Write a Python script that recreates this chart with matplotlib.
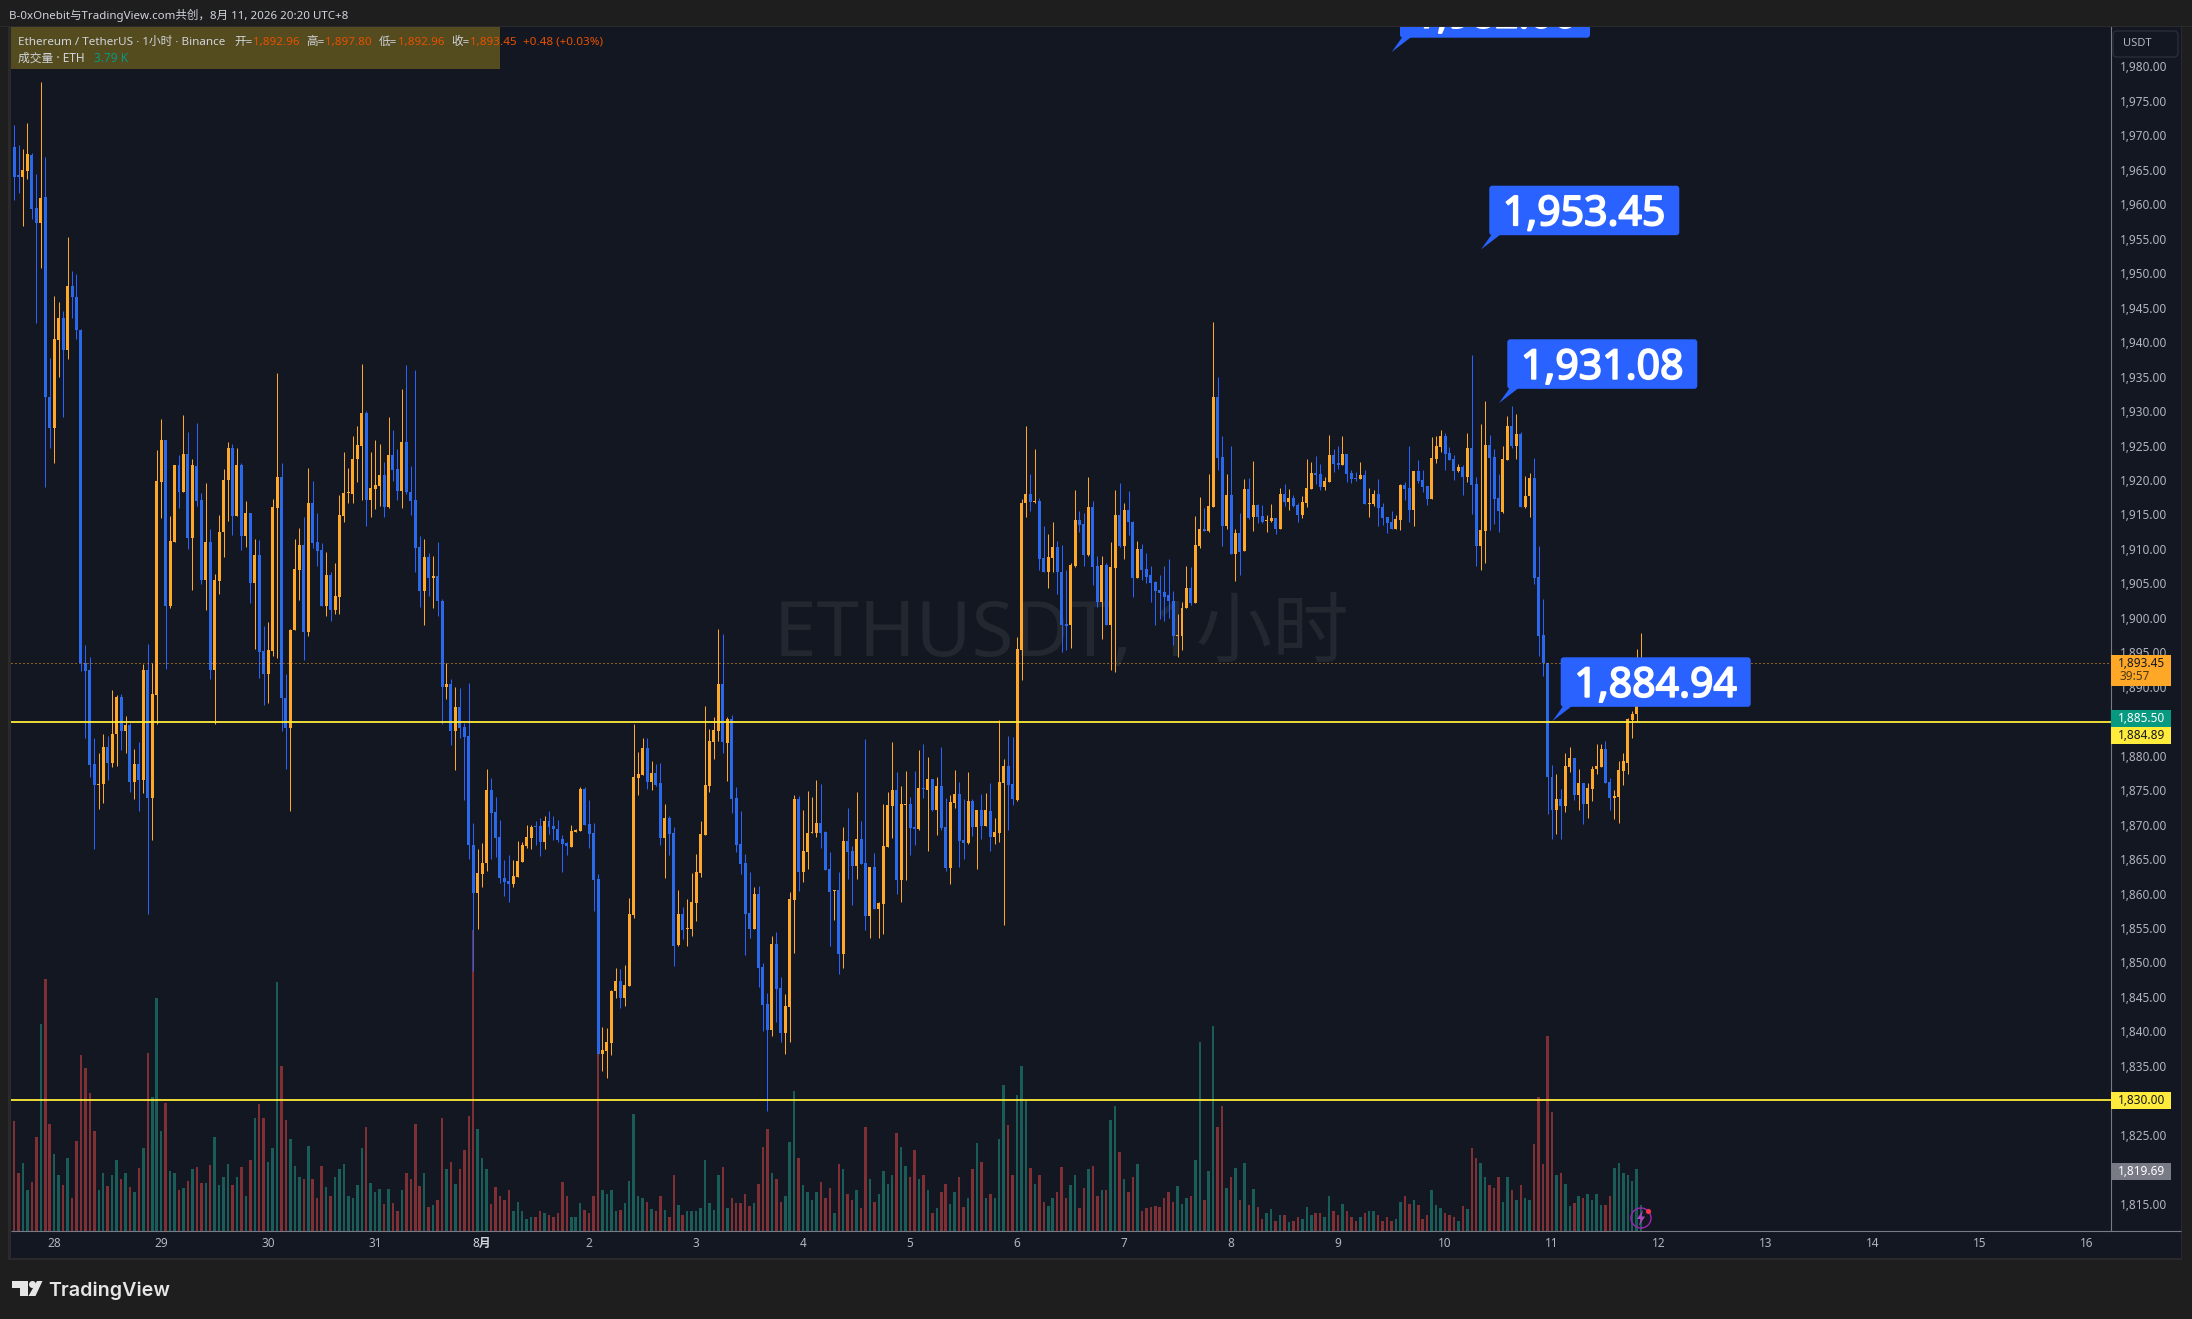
import numpy as np
import matplotlib
matplotlib.use("Agg")
import matplotlib.pyplot as plt
import matplotlib.patheffects as pe
from matplotlib.patches import Rectangle, FancyBboxPatch, Polygon, Circle

plt.rcParams['font.family'] = ['Noto Sans', 'Noto Sans CJK SC', 'DejaVu Sans']

# one hourly bar per entry, first bar is 10 hours before 28 Jul 00:00
opens = [
    1965.3,1968.3,1964.3,1964.0,1964.8,1967.2,1959.5,1957.3,1961.0,1932.1,
    1927.5,1940.3,1943.5,1938.9,1948.2,1946.6,1941.8,1893.5,1892.4,1878.8,
    1875.8,1875.9,1881.2,1879.0,1883.1,1888.5,1883.6,1884.5,1876.2,1878.8,
    1876.5,1892.4,1873.9,1888.8,1919.7,1925.8,1901.7,1911.0,1922.2,1918.2,
    1923.8,1911.6,1922.0,1917.1,1905.5,1911.0,1892.5,1905.4,1912.4,1920.0,
    1924.7,1914.8,1922.2,1911.9,1915.2,1905.1,1909.1,1895.2,1891.9,1895.2,
    1916.0,1920.4,1888.4,1884.0,1898.2,1907.0,1910.6,1897.9,1916.7,1911.0,
    1909.8,1901.7,1906.2,1901.2,1903.0,1914.8,1918.1,1918.0,1923.1,1925.0,
    1929.7,1917.1,1918.7,1919.2,1920.7,1916.1,1923.6,1921.6,1918.4,1925.5,
    1918.2,1917.1,1910.3,1903.9,1908.8,1905.8,1906.1,1902.4,1890.0,1890.4,
    1883.6,1887.0,1884.1,1882.8,1867.1,1860.1,1862.8,1864.4,1875.0,1871.8,
    1868.2,1862.3,1861.8,1861.4,1862.4,1864.6,1866.9,1868.1,1869.7,1869.8,
    1867.5,1870.5,1869.8,1869.4,1867.9,1867.3,1866.7,1869.0,1869.1,1875.2,
    1870.1,1868.8,1862.1,1836.7,1837.2,1838.3,1845.8,1847.3,1844.8,1846.6,
    1856.9,1876.8,1877.2,1881.1,1876.2,1877.5,1876.0,1868.1,1871.0,1868.8,
    1852.5,1857.0,1854.9,1854.9,1858.6,1863.0,1868.5,1875.6,1882.0,1883.6,
    1890.4,1881.8,1885.3,1873.9,1867.2,1864.4,1857.2,1854.9,1859.9,1849.3,
    1844.0,1840.2,1852.7,1846.3,1839.8,1843.5,1859.0,1873.7,1863.1,1866.0,
    1868.8,1868.8,1870.2,1868.9,1863.6,1860.3,1860.5,1851.2,1867.6,1866.2,
    1864.0,1867.9,1864.4,1856.7,1863.9,1857.8,1858.5,1866.8,1872.7,1875.0,
    1862.0,1872.9,1873.0,1869.7,1869.4,1875.3,1875.0,1876.6,1872.1,1875.6,
    1869.6,1863.7,1873.1,1874.4,1867.8,1867.3,1873.4,1869.7,1872.1,1869.8,
    1872.0,1868.2,1868.8,1876.0,1878.5,1875.9,1873.6,1895.3,1916.6,1918.0,
    1916.8,1916.9,1908.7,1906.6,1908.7,1910.3,1906.6,1899.1,1898.9,1907.5,
    1914.2,1913.6,1909.1,1916.1,1907.5,1902.3,1907.7,1898.9,1907.3,1914.9,
    1910.4,1915.7,1913.9,1905.8,1910.0,1907.1,1906.2,1905.2,1904.0,1903.7,
    1903.3,1902.5,1897.3,1897.3,1901.5,1904.4,1902.1,1910.4,1912.9,1912.6,
    1916.1,1932.0,1923.3,1913.3,1917.8,1909.3,1912.3,1909.7,1918.7,1914.6,
    1916.4,1914.8,1914.0,1914.1,1914.5,1912.9,1918.0,1916.8,1917.4,1916.4,
    1914.9,1916.7,1918.7,1921.0,1920.9,1919.0,1919.7,1923.6,1922.5,1922.2,
    1923.8,1921.0,1920.3,1920.2,1920.7,1916.5,1916.5,1918.0,1916.1,1914.6,
    1913.9,1912.9,1914.2,1919.3,1918.8,1915.7,1921.3,1920.0,1919.1,1917.2,
    1923.1,1924.8,1926.4,1923.9,1923.0,1921.3,1921.9,1920.4,1924.6,1919.4,
    1910.4,1912.6,1925.1,1923.3,1917.4,1915.4,1922.9,1927.8,1925.0,1926.7,
    1916.1,1917.7,1920.3,1906.0,1897.5,1893.4,1876.9,1872.1,1873.7,1872.7,
    1878.4,1879.7,1874.3,1876.0,1873.0,1875.2,1878.0,1878.4,1881.0,1876.2,
    1873.9,1874.0,1877.8,1879.0,1885.2,1886.0,1892.96,
]
closes = [
    1968.4,1964.0,1964.0,1965.0,1967.3,1959.3,1957.3,1960.9,1932.1,1927.6,
    1940.5,1943.5,1938.9,1948.2,1946.6,1941.7,1893.5,1892.3,1878.7,1875.8,
    1875.9,1881.2,1879.0,1883.2,1888.5,1883.6,1884.5,1876.2,1878.8,1876.5,
    1892.4,1873.9,1889.0,1919.8,1925.8,1901.7,1911.1,1922.2,1918.2,1923.8,
    1911.6,1922.2,1917.0,1905.5,1911.0,1892.5,1905.5,1912.4,1920.0,1924.7,
    1914.8,1922.2,1911.9,1915.2,1905.1,1909.1,1895.0,1891.9,1895.3,1916.1,
    1920.4,1888.4,1884.0,1898.2,1907.1,1910.6,1897.9,1916.7,1910.9,1909.7,
    1901.7,1906.2,1901.2,1903.2,1914.9,1918.1,1918.2,1923.1,1925.1,1929.7,
    1917.1,1918.9,1919.3,1920.7,1916.1,1923.6,1921.4,1918.4,1925.5,1918.2,
    1916.9,1910.2,1903.9,1908.8,1905.8,1906.1,1902.4,1890.0,1890.4,1883.6,
    1887.0,1884.0,1882.7,1867.0,1860.1,1863.0,1864.5,1875.0,1871.7,1868.1,
    1862.2,1861.7,1861.4,1862.5,1864.7,1867.1,1868.2,1869.7,1869.6,1867.5,
    1870.5,1869.7,1869.4,1867.8,1867.2,1866.9,1869.1,1869.2,1875.2,1870.0,
    1868.6,1862.0,1836.7,1837.3,1838.4,1845.9,1847.3,1844.8,1846.7,1857.0,
    1876.9,1877.3,1881.1,1876.2,1877.5,1875.8,1868.1,1871.0,1868.6,1852.4,
    1857.0,1854.7,1855.0,1858.8,1863.1,1868.6,1875.7,1882.1,1883.7,1890.4,
    1882.0,1885.3,1873.7,1867.0,1864.3,1857.0,1854.9,1859.9,1849.2,1843.8,
    1840.2,1852.7,1846.2,1839.8,1843.7,1859.2,1873.7,1863.1,1866.2,1868.8,
    1868.9,1870.2,1868.8,1863.4,1860.2,1860.5,1851.2,1867.6,1866.0,1864.0,
    1867.9,1864.3,1856.7,1863.9,1857.8,1858.6,1866.9,1872.8,1875.0,1862.0,
    1873.0,1873.0,1869.5,1869.4,1875.3,1875.2,1876.6,1872.1,1875.6,1869.5,
    1863.7,1873.3,1874.4,1867.6,1867.3,1873.4,1869.7,1872.1,1869.8,1872.1,
    1868.2,1868.9,1876.2,1878.5,1875.7,1873.7,1895.5,1916.7,1918.0,1916.8,
    1916.9,1908.6,1906.6,1908.8,1910.3,1906.6,1899.0,1898.8,1907.7,1914.2,
    1913.5,1909.1,1916.1,1907.4,1902.3,1907.7,1898.9,1907.4,1914.9,1910.4,
    1915.7,1913.9,1905.8,1910.0,1907.0,1906.0,1905.0,1903.9,1903.6,1903.1,
    1902.5,1897.3,1897.4,1901.5,1904.4,1902.1,1910.6,1912.9,1912.6,1916.2,
    1932.0,1923.2,1913.3,1917.8,1909.3,1912.3,1909.6,1918.7,1914.5,1916.4,
    1914.6,1913.9,1914.2,1914.5,1912.9,1918.0,1916.8,1917.4,1916.2,1914.9,
    1916.8,1918.8,1921.0,1920.7,1919.0,1919.9,1923.6,1922.3,1922.2,1923.8,
    1920.9,1920.2,1920.2,1920.7,1916.5,1916.7,1918.0,1916.0,1914.5,1913.8,
    1912.9,1914.4,1919.3,1918.7,1915.7,1921.3,1919.9,1919.0,1917.3,1923.2,
    1925.0,1926.4,1923.8,1922.9,1921.3,1921.9,1920.4,1924.6,1919.3,1910.4,
    1912.8,1925.1,1923.2,1917.2,1915.5,1923.0,1927.8,1925.0,1926.7,1916.1,
    1917.7,1920.3,1905.8,1897.4,1893.4,1876.9,1872.1,1873.7,1872.7,1878.5,
    1879.7,1874.3,1876.0,1873.0,1875.3,1878.1,1878.5,1881.0,1876.0,1873.9,
    1874.2,1877.9,1879.2,1885.3,1886.0,1892.96,1893.45,
]
highs = [
    1968.4,1971.5,1968.6,1968.0,1971.8,1967.4,1964.4,1977.7,1966.8,1937.7,
    1946.7,1945.9,1944.5,1955.2,1950.3,1949.9,1941.9,1896.1,1894.3,1882.6,
    1880.4,1883.1,1882.9,1889.5,1888.8,1889.0,1885.8,1884.7,1881.0,1882.0,
    1893.3,1896.2,1893.4,1924.4,1928.8,1925.8,1914.8,1922.2,1923.7,1929.5,
    1927.0,1923.0,1928.3,1918.1,1919.6,1912.9,1906.3,1914.9,1921.6,1925.5,
    1925.2,1924.7,1922.4,1917.0,1915.2,1911.5,1911.3,1898.8,1899.4,1917.3,
    1935.5,1922.5,1891.9,1898.4,1911.4,1913.0,1914.6,1921.8,1919.8,1915.2,
    1910.9,1909.5,1906.7,1907.9,1917.8,1924.0,1921.8,1926.4,1927.8,1936.8,
    1930.0,1924.0,1925.8,1925.2,1922.6,1929.1,1927.3,1924.5,1933.2,1936.7,
    1922.0,1936.0,1911.9,1911.4,1909.4,1909.0,1911.0,1902.7,1893.4,1891.1,
    1890.0,1889.8,1884.7,1890.5,1870.2,1866.4,1867.4,1878.1,1876.8,1874.0,
    1870.7,1864.9,1865.6,1864.8,1867.6,1867.5,1869.9,1870.0,1870.5,1870.9,
    1871.2,1872.0,1871.2,1870.7,1868.5,1867.5,1870.0,1869.4,1875.4,1875.4,
    1873.6,1870.2,1862.9,1840.6,1840.5,1846.0,1849.2,1849.0,1849.6,1859.4,
    1884.6,1880.5,1882.6,1882.6,1879.2,1878.8,1878.9,1873.0,1871.2,1869.6,
    1860.5,1858.0,1859.2,1863.0,1865.7,1870.5,1887.2,1883.9,1885.6,1898.4,
    1897.7,1885.6,1885.9,1875.5,1872.0,1865.7,1863.1,1860.9,1861.1,1849.9,
    1845.5,1853.8,1854.4,1847.9,1845.4,1860.2,1874.3,1874.1,1872.1,1874.9,
    1874.0,1876.5,1875.9,1869.1,1866.0,1860.5,1863.1,1869.7,1872.4,1866.9,
    1874.7,1870.5,1882.4,1863.9,1865.9,1858.8,1873.0,1874.7,1882.0,1877.6,
    1875.6,1877.8,1874.0,1877.8,1880.8,1881.7,1879.8,1876.6,1876.9,1881.3,
    1873.9,1874.3,1877.9,1876.2,1873.7,1877.6,1873.7,1872.1,1874.4,1874.6,
    1876.0,1871.0,1885.2,1879.5,1882.9,1882.7,1897.2,1917.2,1927.8,1920.9,
    1924.5,1917.4,1913.3,1912.2,1913.9,1911.1,1910.6,1907.0,1908.0,1918.5,
    1915.5,1915.2,1920.4,1917.0,1909.0,1909.0,1907.9,1911.0,1918.6,1919.5,
    1916.6,1918.4,1914.0,1911.1,1910.7,1909.4,1907.5,1905.4,1906.2,1907.5,
    1908.5,1903.9,1900.5,1902.3,1907.5,1907.4,1914.8,1917.5,1915.9,1920.9,
    1942.9,1935.0,1926.4,1920.9,1924.9,1912.9,1915.2,1920.2,1920.3,1922.8,
    1916.5,1916.4,1914.9,1916.5,1914.5,1918.8,1919.4,1918.7,1917.8,1916.7,
    1917.7,1923.0,1922.6,1923.5,1922.3,1920.4,1926.5,1924.5,1924.9,1926.4,
    1923.8,1921.5,1921.2,1922.6,1921.5,1918.9,1918.6,1920.2,1916.7,1914.6,
    1915.5,1914.9,1919.4,1919.7,1924.9,1921.3,1922.9,1921.5,1919.1,1926.2,
    1926.4,1927.3,1926.8,1924.8,1923.6,1922.3,1922.2,1926.8,1938.1,1920.4,
    1928.1,1931.5,1926.5,1924.5,1920.9,1925.0,1929.3,1930.7,1929.6,1927.0,
    1920.6,1921.0,1923.2,1910.4,1902.8,1893.4,1878.7,1877.4,1875.2,1880.4,
    1881.3,1879.7,1878.1,1876.0,1876.0,1878.5,1881.7,1881.7,1882.1,1876.8,
    1875.0,1879.2,1880.4,1885.5,1886.5,1895.5,1897.8,
]
lows = [
    1965.3,1960.6,1961.7,1956.8,1963.7,1957.9,1942.8,1950.8,1919.0,1924.7,
    1922.5,1935.0,1929.2,1937.6,1943.5,1940.5,1892.3,1882.5,1876.9,1866.4,
    1872.3,1873.2,1876.5,1878.4,1878.5,1880.8,1880.4,1874.7,1873.7,1872.0,
    1874.6,1857.0,1867.8,1884.6,1914.5,1892.6,1901.5,1911.0,1916.0,1918.2,
    1910.0,1904.0,1916.2,1904.9,1901.2,1891.2,1884.6,1903.5,1908.8,1914.1,
    1912.0,1914.8,1909.8,1910.3,1902.2,1895.5,1891.3,1887.3,1887.7,1894.5,
    1894.2,1883.6,1878.1,1872.0,1898.3,1902.6,1893.9,1897.4,1910.2,1907.5,
    1901.7,1900.2,1899.6,1900.5,1900.5,1913.9,1916.7,1916.7,1919.7,1917.1,
    1913.4,1914.6,1915.8,1916.2,1914.6,1916.0,1919.8,1917.1,1916.0,1918.0,
    1914.9,1906.6,1901.6,1899.0,1903.2,1901.5,1900.3,1884.6,1888.2,1881.5,
    1877.9,1882.5,1873.6,1865.0,1848.8,1854.8,1860.9,1863.3,1865.0,1865.3,
    1861.6,1859.7,1858.8,1861.0,1862.4,1864.6,1866.6,1866.5,1867.0,1865.4,
    1866.5,1868.7,1867.7,1867.5,1863.2,1865.6,1866.7,1868.9,1869.1,1870.0,
    1866.6,1857.5,1836.7,1834.3,1833.2,1836.6,1844.9,1843.4,1843.7,1846.6,
    1856.5,1874.3,1877.2,1875.2,1875.0,1875.6,1867.1,1862.3,1865.6,1849.5,
    1852.4,1853.4,1852.4,1853.9,1856.0,1862.4,1868.5,1874.7,1879.5,1882.1,
    1880.4,1876.3,1871.7,1866.0,1862.8,1851.1,1853.6,1854.9,1846.5,1840.1,
    1828.5,1839.3,1841.4,1838.5,1836.7,1838.5,1851.4,1860.4,1861.7,1863.6,
    1868.8,1868.2,1866.6,1863.4,1852.4,1856.2,1848.3,1849.2,1862.1,1858.3,
    1862.1,1864.3,1854.7,1853.6,1857.8,1853.6,1854.1,1866.8,1868.1,1859.9,
    1858.8,1862.0,1865.6,1867.0,1869.2,1873.9,1866.2,1872.0,1868.5,1869.2,
    1863.3,1861.4,1872.4,1863.9,1865.0,1867.2,1868.3,1863.6,1867.9,1869.8,
    1866.2,1867.2,1867.5,1855.4,1869.2,1872.8,1873.4,1891.0,1914.6,1915.5,
    1916.7,1907.0,1906.6,1904.3,1906.6,1903.4,1895.1,1895.4,1895.6,1907.4,
    1912.5,1907.5,1909.0,1904.8,1901.6,1897.0,1898.9,1892.5,1892.1,1910.3,
    1908.5,1912.0,1903.0,1905.8,1905.5,1905.0,1902.3,1899.0,1899.8,1899.5,
    1900.0,1896.1,1894.3,1895.3,1901.5,1901.8,1902.1,1910.1,1912.6,1912.5,
    1916.1,1921.5,1910.4,1912.9,1909.3,1905.4,1906.2,1909.7,1914.3,1912.6,
    1913.8,1913.8,1912.5,1913.9,1912.2,1912.9,1916.2,1915.7,1916.1,1913.9,
    1914.5,1916.1,1918.7,1919.4,1918.6,1918.6,1919.7,1921.2,1921.6,1922.2,
    1919.7,1919.6,1919.9,1920.2,1916.5,1914.7,1916.2,1913.3,1913.5,1912.3,
    1912.9,1912.9,1912.8,1917.1,1913.9,1913.3,1919.6,1918.3,1916.4,1917.2,
    1922.5,1924.0,1921.5,1922.9,1920.0,1921.2,1917.8,1919.7,1915.0,1907.5,
    1907.0,1908.0,1912.8,1913.6,1912.5,1915.2,1922.9,1924.7,1923.1,1916.1,
    1916.0,1914.6,1904.9,1894.5,1891.6,1871.5,1867.9,1868.6,1867.9,1871.8,
    1877.6,1873.6,1872.1,1870.1,1871.0,1873.4,1877.4,1878.4,1876.0,1872.1,
    1870.8,1870.3,1875.8,1877.4,1882.6,1885.0,1892.96,
]
# volume in thousands of ETH
volumes = [
    24.6,16.2,8.6,10.0,6.1,7.3,13.9,30.5,37.2,15.8,
    11.3,8.3,6.8,10.7,4.8,13.3,26.0,24.0,20.4,14.7,
    6.0,8.5,6.7,8.3,10.4,7.7,8.5,6.5,5.8,9.3,
    12.3,26.3,19.7,34.4,14.8,18.9,8.9,8.5,6.1,6.4,
    7.4,9.2,9.5,7.1,7.1,9.8,13.8,6.8,8.0,9.9,
    6.8,8.0,9.5,5.2,10.4,16.6,18.8,16.6,10.2,12.2,
    36.7,24.3,16.4,13.6,9.6,7.9,7.7,12.6,7.6,4.8,
    9.6,6.5,5.1,7.9,9.1,9.9,5.1,4.9,6.8,12.2,
    15.3,7.1,5.7,6.2,4.0,6.2,4.2,3.0,6.1,8.6,
    7.6,15.8,6.7,8.5,3.6,3.9,4.5,16.6,9.1,10.2,
    7.0,9.1,11.9,17.0,44.4,15.1,10.8,9.2,4.0,6.5,
    5.1,4.5,6.1,3.0,4.3,3.0,1.8,2.0,2.0,2.9,
    2.6,2.3,2.0,2.6,7.3,5.1,2.1,2.0,4.2,3.1,
    2.7,5.1,30.0,6.1,5.5,6.0,3.0,3.1,4.2,7.4,
    17.3,5.1,4.8,4.3,3.3,2.9,5.1,3.1,2.0,8.2,
    3.9,2.4,2.9,3.0,3.0,3.4,10.5,4.2,3.1,8.3,
    9.5,3.4,4.8,4.2,4.2,5.4,3.7,4.2,7.0,12.4,
    15.1,8.5,7.7,4.3,5.1,13.2,20.6,10.7,6.8,5.8,
    4.5,5.8,7.3,4.8,6.4,2.7,9.9,9.1,5.4,4.5,
    6.1,3.4,15.4,7.7,4.3,5.5,8.8,7.0,8.2,14.5,
    12.4,9.6,8.0,11.9,7.6,8.2,6.0,2.6,3.4,5.7,
    7.0,4.0,5.8,7.9,3.6,4.9,9.2,13.0,10.2,4.9,
    5.4,4.9,13.5,21.6,15.7,8.2,20.0,24.3,19.2,9.3,
    7.0,8.2,4.3,3.7,4.9,5.7,9.5,4.9,6.8,8.3,
    3.4,6.4,9.1,9.6,5.2,6.0,6.0,16.3,18.5,11.7,
    7.7,5.7,7.9,9.9,3.0,3.4,3.6,3.7,3.6,4.9,
    5.8,4.3,6.7,4.0,4.9,5.2,10.5,27.9,4.6,8.8,
    30.3,15.4,18.5,6.4,7.9,9.3,4.5,10.1,3.9,6.2,
    3.6,1.7,2.6,3.3,1.5,2.3,2.4,1.4,1.5,2.0,
    1.7,3.6,2.3,2.7,2.6,2.1,5.1,3.0,2.4,4.0,
    2.9,2.0,1.5,2.0,2.6,2.9,2.9,2.3,1.5,2.1,
    1.5,1.7,4.3,5.1,4.0,4.5,3.9,1.7,2.4,6.1,
    3.9,3.4,2.7,2.3,2.0,1.5,3.7,3.3,12.3,10.7,
    10.1,8.0,6.8,6.4,7.9,4.3,7.9,6.0,4.5,6.8,
    4.9,4.5,12.9,19.8,9.9,28.8,17.5,8.2,8.6,7.0,
    3.7,4.2,5.1,4.8,5.4,4.6,5.5,3.9,3.9,5.2,
    9.3,10.1,8.5,8.2,7.4,9.1,3.79,
]
day_labels = ["28","29","30","31","8月","2","3","4","5","6","7","8","9","10","11","12","13","14","15","16"]
# 1820, 1830 and 1885 sit fully under the price badges
price_ticks = [p for p in range(1815, 1985, 5) if p not in (1820, 1830, 1885)]
line_levels = [1884.89, 1830.0]
last_price = 1893.45

W, H = 2192, 1319
BG = "#1e1e1e"
PANE = "#131722"
SEP = "#2a2a2a"
UP = "#ffa726"
DOWN_BODY = "#2b6ce0"
DOWN_WICK = "#2962ff"
VOL_UP = "#1a5d58"
VOL_DOWN = "#7e3034"
AXIS_TEXT = "#b2b5be"
YELLOW = "#ffeb3b"
CALLOUT = "#2962ff"

# pane edges in pixels
PANE_L, PANE_R, PANE_T, PANE_B = 10.5, 2111.0, 27.0, 1231.0

opens = np.array(opens)
closes = np.array(closes)
highs = np.array(highs)
lows = np.array(lows)
volumes = np.array(volumes)
x = np.arange(len(opens)) - 10
up = closes >= opens

fig = plt.figure(figsize=(W / 100, H / 100), dpi=100, facecolor=BG)
pos = [PANE_L / W, 1 - PANE_B / H, (PANE_R - PANE_L) / W, (PANE_B - PANE_T) / H]

back = fig.add_axes([0, 0, 1, 1], zorder=0)
back.set_xlim(0, W)
back.set_ylim(H, 0)
back.axis("off")
back.add_patch(Rectangle((8, 26), 2174, 1234, fc=SEP, ec="none"))
back.add_patch(Rectangle((PANE_L, PANE_T), 2181 - PANE_L, 1258 - PANE_T, fc=PANE, ec="none"))
back.text(1061, 656, "ETHUSDT, 1小时", color="#232730", fontsize=55, ha="center", va="baseline")

xlim = (-9.80, 461.4)

vol_ax = fig.add_axes(pos, zorder=1)
vol_ax.patch.set_visible(False)
vol_ax.set_xlim(*xlim)
vol_ax.set_ylim(0, 177.6)
vol_ax.axis("off")
vol_ax.bar(x, volumes, width=0.56, color=[VOL_UP if u else VOL_DOWN for u in up], linewidth=0)

ax = fig.add_axes(pos, zorder=2)
ax.patch.set_visible(False)
ax.set_xlim(*xlim)
ax.set_ylim(1811.04, 1985.73)

# wicks then bodies
ax.vlines(x[up], lows[up], highs[up], color=UP, linewidth=0.72)
ax.vlines(x[~up], lows[~up], highs[~up], color=DOWN_WICK, linewidth=0.72)
bottoms = np.minimum(opens, closes)
heights = np.maximum(np.abs(closes - opens), 0.15)
ax.bar(x[up], heights[up], bottom=bottoms[up], width=0.67, color=UP, linewidth=0)
ax.bar(x[~up], heights[~up], bottom=bottoms[~up], width=0.67, color=DOWN_BODY, linewidth=0)

for level in line_levels:
    ax.axhline(level, color=YELLOW, linewidth=1.3)
ax.axhline(last_price, color=UP, linewidth=0.72, linestyle=(0, (1, 3)))

ax.yaxis.tick_right()
ax.set_yticks(price_ticks)
ax.set_yticklabels([f"{p:,.2f}" for p in price_ticks], color=AXIS_TEXT, fontsize=8.5)
ax.set_xticks(np.arange(len(day_labels)) * 24)
ax.set_xticklabels(day_labels, color=AXIS_TEXT, fontsize=8.5)
ax.tick_params(axis="both", length=0)
ax.tick_params(axis="y", pad=6.5)
ax.tick_params(axis="x", pad=4)
for lab in ax.get_xticklabels():
    if lab.get_text() == "8月":
        lab.set_fontweight("bold")
        lab.set_color("#d1d4dc")
for s in ["top", "left"]:
    ax.spines[s].set_visible(False)
ax.spines["right"].set_color("#787b86")
ax.spines["right"].set_linewidth(0.8)
ax.spines["bottom"].set_visible(False)

# everything in pixels from here on
top = fig.add_axes([0, 0, 1, 1], zorder=3)
top.patch.set_visible(False)
top.set_xlim(0, W)
top.set_ylim(H, 0)
top.axis("off")

top.plot([PANE_L, 2181], [1231, 1231], color="#787b86", lw=0.8, solid_capstyle="butt")


def callout(left, ytop, label):
    width, height = 190, 49.5
    bottom = ytop + height
    top.add_patch(Polygon([(left + 2.6, bottom - 1), (left + 11.6, bottom - 1), (left - 8.3, bottom + 14.3)],
                          fc=CALLOUT, ec="none", zorder=4))
    top.add_patch(FancyBboxPatch((left, ytop), width, height, boxstyle="round,pad=0,rounding_size=3",
                                 fc=CALLOUT, ec="none", zorder=4))
    # no heavy cut of the font here, a thin stroke thickens it
    top.text(left + width / 2, ytop + 39.5, label, color="white", fontsize=29.5,
             ha="center", va="baseline", zorder=5,
             path_effects=[pe.withStroke(linewidth=1.3, foreground="white")])


callout(1400, -11.8, "1,982.06")
callout(1489.3, 185.7, "1,953.45")
callout(1507.3, 339.3, "1,931.08")
callout(1560.7, 657.3, "1,884.94")

# top strip goes over the clipped callout
top.add_patch(Rectangle((0, 0), W, 26, fc=BG, ec="none", zorder=6))
top.add_patch(Rectangle((0, 26), W, 1, fc=SEP, ec="none", zorder=6))
top.text(9, 15, "B-0xOnebit与TradingView.com共创，8月 11, 2026 20:20 UTC+8", color="#d1d4dc",
         fontsize=8.3, va="center", zorder=7)

# legend
top.add_patch(Rectangle((PANE_L, 27), 500 - PANE_L, 42, fc="#544b1e", ec="none", zorder=4))
LEG = "#d1d4dc"
VAL = "#e65100"
for tx, s, c in [(18, "Ethereum / TetherUS · 1小时 · Binance", LEG),
                 (234, "开=", LEG), (253, "1,892.96", VAL),
                 (306, "高=", LEG), (325, "1,897.80", VAL),
                 (378.6, "低=", LEG), (397.6, "1,892.96", VAL),
                 (451, "收=", LEG), (469.6, "1,893.45", VAL),
                 (523, "+0.48 (+0.03%)", VAL)]:
    top.text(tx, 42, s, color=c, fontsize=8.4, va="center", zorder=5)
top.text(18, 58.7, "成交量 · ETH", color=LEG, fontsize=8.5, va="center", zorder=5)
top.text(94, 58.7, "3.79 K", color="#089981", fontsize=8.5, va="center", zorder=5)


# price badges on the right axis
def badge(y0, y1, fc, tc, label):
    top.add_patch(Rectangle((2111, y0), 60, y1 - y0, fc=fc, ec="none", zorder=4))
    top.text(2141.5, (y0 + y1) / 2, label, color=tc, fontsize=8.5, ha="center", va="center", zorder=5)


badge(655, 686, UP, "#131722", "")
top.text(2141.5, 663.5, "1,893.45", color="#131722", fontsize=8.5, ha="center", va="center", zorder=5)
top.text(2119, 676.5, "39:57", color="#4a3a18", fontsize=8.5, ha="left", va="center", zorder=5)
badge(710, 726.7, "#089981", "white", "1,885.50")
badge(726.7, 744, YELLOW, "#131722", "1,884.89")
badge(1092, 1109, YELLOW, "#131722", "1,830.00")
badge(1163, 1180, "#787b86", "white", "1,819.69")

top.add_patch(FancyBboxPatch((2113, 31), 65, 26, boxstyle="round,pad=0,rounding_size=4",
                             fc=PANE, ec="#2f323c", lw=0.8, zorder=4))
top.text(2123, 44, "USDT", color=AXIS_TEXT, fontsize=8, va="center", zorder=5)

# lightning badge on the last bar
top.add_patch(Circle((1641, 1218), 10, fc="none", ec="#9c27b0", lw=1.0, zorder=4))
top.add_patch(Polygon([(1643, 1210), (1637, 1219), (1640.5, 1219), (1639, 1226), (1645, 1216.5), (1641.5, 1216.5)],
                      fc="#ab47bc", ec="none", zorder=4))
top.add_patch(Circle((1648.5, 1211.5), 2.6, fc="#f23645", ec="none", zorder=5))

# TradingView mark, bottom left
LOGO = "#e6e6e6"
top.add_patch(Polygon([(12, 1281), (28, 1281), (28, 1296), (20, 1296), (20, 1288), (12, 1288)], fc=LOGO, ec="none"))
top.add_patch(Circle((32.5, 1284.5), 3.5, fc=LOGO, ec="none"))
top.add_patch(Polygon([(37, 1281), (42.5, 1281), (35.5, 1296), (28.5, 1296)], fc=LOGO, ec="none"))
top.text(48, 1296.5, "TradingView", color=LOGO, fontsize=14.2, fontweight="semibold", va="baseline", family="Inter")

fig.savefig("out.png", dpi=100, facecolor=BG)
